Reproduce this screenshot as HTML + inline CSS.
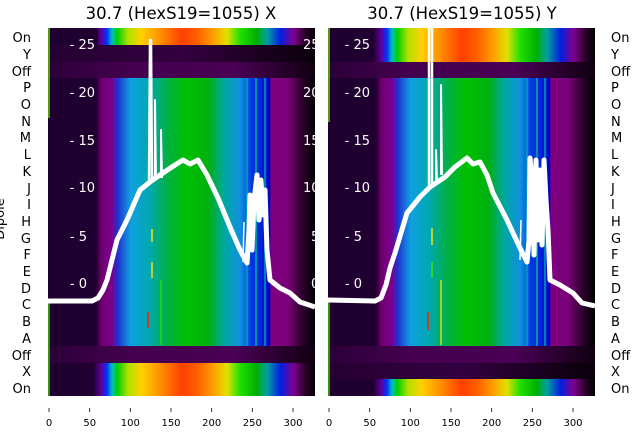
<!DOCTYPE html>
<html><head><meta charset="utf-8"><style>
body{margin:0;background:#fff;width:640px;height:440px;overflow:hidden}
svg{display:block;font-family:"DejaVu Sans","Liberation Sans",sans-serif}
</style></head><body>
<svg width="640" height="440" viewBox="0 0 640 440" xmlns="http://www.w3.org/2000/svg">
<defs>
<linearGradient id="main" x1="0" x2="1" y1="0" y2="0">
<stop offset="0" stop-color="#200030"/><stop offset="0.18" stop-color="#200030"/>
<stop offset="0.2" stop-color="#700070"/><stop offset="0.24" stop-color="#7a0090"/>
<stop offset="0.26" stop-color="#2030d0"/><stop offset="0.31" stop-color="#10a0e0"/>
<stop offset="0.38" stop-color="#00a8b0"/><stop offset="0.45" stop-color="#00b040"/>
<stop offset="0.52" stop-color="#00c000"/><stop offset="0.6" stop-color="#00b010"/>
<stop offset="0.66" stop-color="#00a8a0"/><stop offset="0.72" stop-color="#1090e0"/>
<stop offset="0.76" stop-color="#0040e0"/><stop offset="0.82" stop-color="#0010d0"/>
<stop offset="0.83" stop-color="#0000c0"/><stop offset="0.835" stop-color="#800080"/>
<stop offset="0.9" stop-color="#780078"/><stop offset="0.95" stop-color="#300030"/>
<stop offset="1" stop-color="#000000"/>
</linearGradient>
<linearGradient id="spec" x1="0" x2="1" y1="0" y2="0">
<stop offset="0" stop-color="#200030"/><stop offset="0.17" stop-color="#200030"/>
<stop offset="0.2" stop-color="#6000a0"/><stop offset="0.22" stop-color="#0030ff"/>
<stop offset="0.24" stop-color="#00c0c0"/><stop offset="0.26" stop-color="#00d000"/>
<stop offset="0.3" stop-color="#b0e000"/><stop offset="0.35" stop-color="#ffd000"/>
<stop offset="0.42" stop-color="#ff9000"/><stop offset="0.5" stop-color="#ff4000"/>
<stop offset="0.56" stop-color="#ff6000"/><stop offset="0.62" stop-color="#ffa000"/>
<stop offset="0.67" stop-color="#e0e000"/><stop offset="0.72" stop-color="#20e000"/>
<stop offset="0.78" stop-color="#00b000"/><stop offset="0.82" stop-color="#00a0a0"/>
<stop offset="0.87" stop-color="#0020e0"/><stop offset="0.92" stop-color="#800090"/>
<stop offset="0.96" stop-color="#300030"/><stop offset="1" stop-color="#000000"/>
</linearGradient>
<linearGradient id="dark" x1="0" x2="1" y1="0" y2="0">
<stop offset="0" stop-color="#250032"/><stop offset="0.5" stop-color="#330040"/><stop offset="1" stop-color="#0a000a"/>
</linearGradient>
<linearGradient id="off" x1="0" x2="1" y1="0" y2="0">
<stop offset="0" stop-color="#2a0038"/><stop offset="0.3" stop-color="#45004f"/><stop offset="0.7" stop-color="#4a0055"/><stop offset="1" stop-color="#100010"/>
</linearGradient>
<clipPath id="cl"><rect x="48" y="28" width="267" height="368"/></clipPath>
<clipPath id="cr"><rect x="328" y="28" width="267" height="368"/></clipPath>
</defs>

<text x="181" y="19" font-size="16.5" text-anchor="middle">30.7 (HexS19=1055) X</text>
<text x="462" y="19" font-size="16.5" text-anchor="middle">30.7 (HexS19=1055) Y</text>

<!-- left panel -->
<g clip-path="url(#cl)">
<rect x="48" y="28" width="267" height="17" fill="url(#spec)"/>
<rect x="48" y="45" width="267" height="17" fill="url(#dark)"/>
<rect x="48" y="62" width="267" height="16" fill="url(#off)"/>
<rect x="48" y="78" width="267" height="268" fill="url(#main)"/>
<rect x="48" y="346" width="267" height="17" fill="url(#off)"/>
<rect x="48" y="363" width="267" height="33" fill="url(#spec)"/>
<rect x="48" y="28" width="50" height="17" fill="#200030"/>
<rect x="48" y="363" width="45" height="33" fill="#200030"/>
<g stroke-width="1.5">
<line x1="247" y1="78" x2="247" y2="346" stroke="#00a0c0"/>
<line x1="252" y1="78" x2="252" y2="346" stroke="#0030e0"/>
<line x1="256" y1="78" x2="256" y2="346" stroke="#00b0a0"/>
<line x1="261" y1="78" x2="261" y2="346" stroke="#0020e0"/>
<line x1="265" y1="78" x2="265" y2="346" stroke="#00a0b0"/>
<line x1="49" y1="28" x2="49" y2="118" stroke="#60d000"/>
<line x1="49" y1="300" x2="49" y2="396" stroke="#40c000"/>
<line x1="152" y1="229" x2="152" y2="242" stroke="#ffe000"/>
<line x1="152" y1="262" x2="152" y2="278" stroke="#ffe000"/>
<line x1="148" y1="312" x2="148" y2="328" stroke="#ff2000"/>
<line x1="161" y1="280" x2="161" y2="345" stroke="#20e000"/>
</g>
<text x="95" y="49" font-size="13" fill="#fff" text-anchor="end">- 25</text>
<text x="95" y="97" font-size="13" fill="#fff" text-anchor="end">- 20</text>
<text x="95" y="145" font-size="13" fill="#fff" text-anchor="end">- 15</text>
<text x="95" y="192" font-size="13" fill="#fff" text-anchor="end">- 10</text>
<text x="87" y="241" font-size="13" fill="#fff" text-anchor="end">- 5</text>
<text x="87" y="288" font-size="13" fill="#fff" text-anchor="end">- 0</text>
<g font-size="13" fill="#fff">
<text x="303" y="49">25</text><text x="303" y="97">20</text><text x="303" y="145">15</text>
<text x="303" y="192">10</text><text x="311" y="241">5</text><text x="311" y="288">0</text>
</g>
<g fill="none" stroke="#fff" stroke-linejoin="round">
<polyline stroke-width="5" points="48,301 92,301 98,298 103,290 107,280 112,260 117,240 127,220 140,190 150,182 160,175 175,165 183,160 190,164 198,160 207,175 218,198 230,227 240,250 247,263 249,230 250,195 252,250 254,200 257,175 259,220 261,180 263,215 265,190 267,250 270,280 280,288 290,293 300,302 315,307"/>
<polyline stroke-width="2.5" points="149,185 150,40 151,40 152,183"/>
<polyline stroke-width="2" points="155,180 155,100 156,180"/>
<polyline stroke-width="2" points="161,178 161,130 162,178"/>
<polyline stroke-width="1.5" points="243,262 244,222"/>
</g>
</g>

<!-- right panel -->
<g clip-path="url(#cr)">
<rect x="328" y="28" width="267" height="34" fill="url(#spec)"/>
<rect x="328" y="62" width="267" height="16" fill="url(#off)"/>
<rect x="328" y="78" width="267" height="268" fill="url(#main)"/>
<rect x="328" y="346" width="267" height="17" fill="url(#off)"/>
<rect x="328" y="363" width="267" height="16" fill="url(#dark)"/>
<rect x="328" y="379" width="267" height="17" fill="url(#spec)"/>
<g stroke-width="1.5">
<line x1="527" y1="78" x2="527" y2="346" stroke="#00a0c0"/>
<line x1="532" y1="78" x2="532" y2="346" stroke="#0030e0"/>
<line x1="537" y1="78" x2="537" y2="346" stroke="#00b0a0"/>
<line x1="541" y1="78" x2="541" y2="346" stroke="#0020e0"/>
<line x1="545" y1="78" x2="545" y2="346" stroke="#00a0b0"/>
<line x1="329" y1="28" x2="329" y2="122" stroke="#60d000"/>
<line x1="329" y1="300" x2="329" y2="396" stroke="#40c000"/>
<line x1="432" y1="228" x2="432" y2="245" stroke="#ffe000"/>
<line x1="432" y1="262" x2="432" y2="278" stroke="#40e000"/>
<line x1="428" y1="312" x2="428" y2="330" stroke="#ff2000"/>
<line x1="441" y1="280" x2="441" y2="345" stroke="#e0e000"/>
</g>
<g font-size="13" fill="#fff">
<text x="370" y="49" text-anchor="end">- 25</text>
<text x="370" y="97" text-anchor="end">- 20</text>
<text x="370" y="145" text-anchor="end">- 15</text>
<text x="370" y="192" text-anchor="end">- 10</text>
<text x="362" y="241" text-anchor="end">- 5</text>
<text x="362" y="288" text-anchor="end">- 0</text>
</g>
<g fill="none" stroke="#fff" stroke-linejoin="round">
<polyline stroke-width="5" points="328,300 375,301 381,298 386,285 390,268 395,253 407,213 420,197 430,187 445,177 455,167 467,158 473,164 480,162 487,175 493,193 507,220 520,248 527,262 529,240 530,158 532,180 534,255 536,160 538,240 540,170 542,245 544,160 546,200 548,230 550,280 560,285 573,293 582,303 595,306"/>
<polyline stroke-width="2.5" points="429,190 429,28 432,28 432,186"/>
<polyline stroke-width="2" points="441,175 441,85 442,175"/>
<polyline stroke-width="2" points="436,182 436,150 437,180"/>
<polyline stroke-width="1.5" points="520,260 521,220"/>
</g>
</g>

<!-- row labels -->
<g font-size="13" fill="#000" text-anchor="end">
<text x="31" y="42">On</text><text x="31" y="59">Y</text><text x="31" y="76">Off</text>
<text x="31" y="92">P</text><text x="31" y="109">O</text><text x="31" y="126">N</text>
<text x="31" y="142">M</text><text x="31" y="159">L</text><text x="31" y="176">K</text>
<text x="31" y="193">J</text><text x="31" y="209">I</text><text x="31" y="226">H</text>
<text x="31" y="243">G</text><text x="31" y="259">F</text><text x="31" y="276">E</text>
<text x="31" y="293">D</text><text x="31" y="309">C</text><text x="31" y="326">B</text>
<text x="31" y="343">A</text><text x="31" y="360">Off</text><text x="31" y="376">X</text>
<text x="31" y="393">On</text>
</g>
<text x="0" y="215" font-size="13" transform="rotate(-90 4 215)" text-anchor="middle">Dipole</text>
<g font-size="13" fill="#000">
<text x="611" y="42">On</text><text x="611" y="59">Y</text><text x="611" y="76">Off</text>
<text x="611" y="92">P</text><text x="611" y="109">O</text><text x="611" y="126">N</text>
<text x="611" y="142">M</text><text x="611" y="159">L</text><text x="611" y="176">K</text>
<text x="611" y="193">J</text><text x="611" y="209">I</text><text x="611" y="226">H</text>
<text x="611" y="243">G</text><text x="611" y="259">F</text><text x="611" y="276">E</text>
<text x="611" y="293">D</text><text x="611" y="309">C</text><text x="611" y="326">B</text>
<text x="611" y="343">A</text><text x="611" y="360">Off</text><text x="611" y="376">X</text>
<text x="611" y="393">On</text>
</g>

<!-- x ticks -->
<g stroke="#000" stroke-width="0.8">
<line x1="49" y1="408" x2="49" y2="412"/><line x1="89.7" y1="408" x2="89.7" y2="412"/>
<line x1="130.3" y1="408" x2="130.3" y2="412"/><line x1="171" y1="408" x2="171" y2="412"/>
<line x1="211.7" y1="408" x2="211.7" y2="412"/><line x1="252.3" y1="408" x2="252.3" y2="412"/>
<line x1="293" y1="408" x2="293" y2="412"/>
<line x1="329" y1="408" x2="329" y2="412"/><line x1="369.7" y1="408" x2="369.7" y2="412"/>
<line x1="410.3" y1="408" x2="410.3" y2="412"/><line x1="451" y1="408" x2="451" y2="412"/>
<line x1="491.7" y1="408" x2="491.7" y2="412"/><line x1="532.3" y1="408" x2="532.3" y2="412"/>
<line x1="573" y1="408" x2="573" y2="412"/>
</g>
<g font-size="10" text-anchor="middle" fill="#000">
<text x="49" y="426">0</text><text x="89.7" y="426">50</text><text x="130.3" y="426">100</text>
<text x="171" y="426">150</text><text x="211.7" y="426">200</text><text x="252.3" y="426">250</text>
<text x="293" y="426">300</text>
<text x="329" y="426">0</text><text x="369.7" y="426">50</text><text x="410.3" y="426">100</text>
<text x="451" y="426">150</text><text x="491.7" y="426">200</text><text x="532.3" y="426">250</text>
<text x="573" y="426">300</text>
</g>
</svg>
</body></html>
